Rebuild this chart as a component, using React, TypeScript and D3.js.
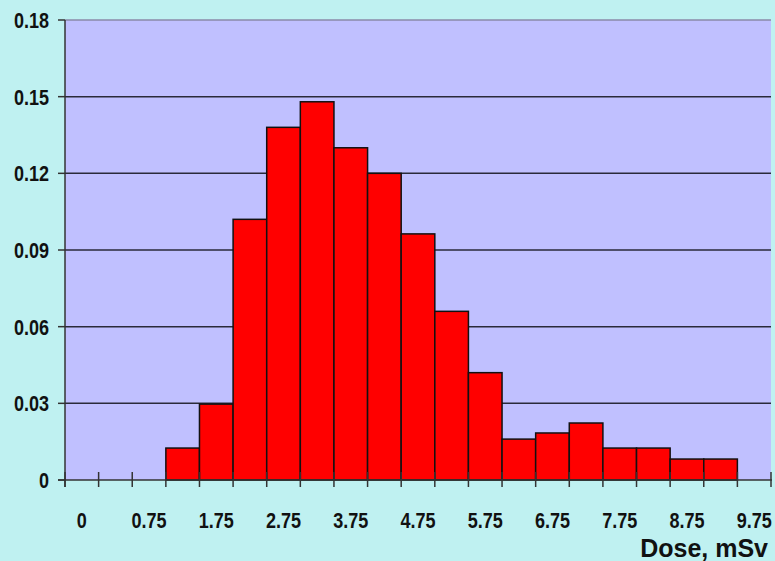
import React from "react";
import * as d3 from "d3";

const categories = ["0","0.25","0.75","1.25","1.75","2.25","2.75","3.25","3.75","4.25","4.75","5.25","5.75","6.25","6.75","7.25","7.75","8.25","8.75","9.25","9.75"];
const values = [0,0,0,0.0125,0.0297,0.102,0.138,0.148,0.130,0.120,0.0963,0.066,0.042,0.016,0.0184,0.0223,0.0125,0.0125,0.0082,0.0082,0];
const yTicks = [0,0.03,0.06,0.09,0.12,0.15,0.18];
const xLabelEvery = 2;
const xTitle = "Dose, mSv";

const W = 775, H = 561;
const left = 65, right = 771, top = 20, bottom = 480;
const font = "'Liberation Sans', Arial, sans-serif";
const sx = 0.82;

export default function App() {
  const x = d3.scaleBand<string>().domain(categories).range([left, right]).padding(0);
  const y = d3.scaleLinear().domain([0, 0.18]).range([bottom, top]);
  const bw = x.bandwidth();
  return (
    <svg width={W} height={H} style={{ position: "absolute", left: 0, top: 0 }}>
      <rect x={0} y={0} width={W} height={H} fill="#bff1f1" />
      <rect x={left} y={top} width={right - left} height={bottom - top} fill="#c0c0ff" />
      <line x1={left} x2={right} y1={top} y2={top} stroke="#8a8aa8" strokeWidth={1.5} />
      {yTicks.filter(t => t > 0 && t < 0.18).map(t => (
        <line key={t} x1={left} x2={right} y1={y(t)} y2={y(t)} stroke="#2a2a3a" strokeWidth={1.5} />
      ))}
      {categories.map((c, i) => values[i] > 0 ? (
        <rect key={c} x={x(c)!} y={y(values[i])} width={bw} height={bottom - y(values[i])}
          fill="#ff0000" stroke="#111" strokeWidth={1.5} />
      ) : null)}
      <line x1={left} x2={left} y1={top} y2={bottom + 7} stroke="#333" strokeWidth={1.5} />
      <line x1={left - 7} x2={right + 1} y1={bottom} y2={bottom} stroke="#333" strokeWidth={1.5} />
      {yTicks.map(t => (
        <g key={t}>
          <line x1={left - 7} x2={left} y1={y(t)} y2={y(t)} stroke="#333" strokeWidth={1.5} />
          <text transform={`translate(49,${y(t)}) scale(${sx},1)`} dy="0.36em" textAnchor="end" fontFamily={font} fontWeight="bold" fontSize={22} fill="#111">
            {t === 0 ? "0" : t.toFixed(2)}
          </text>
        </g>
      ))}
      {categories.concat(["end"]).map((c, i) => {
        const xx = i < categories.length ? x(c)! : right;
        return <line key={"t" + i} x1={xx} x2={xx} y1={bottom - 8} y2={bottom + 7} stroke="#333" strokeWidth={1.5} />;
      })}
      {categories.map((c, i) => i % xLabelEvery === 0 ? (
        <text key={"l" + c} transform={`translate(${x(c)! + bw / 2},528) scale(${sx},1)`} textAnchor="middle" fontFamily={font} fontWeight="bold" fontSize={22} fill="#111">{c}</text>
      ) : null)}
      <text x={768} y={557} textAnchor="end" fontFamily={font} fontWeight="bold" fontSize={25} fill="#111">{xTitle}</text>
    </svg>
  );
}
